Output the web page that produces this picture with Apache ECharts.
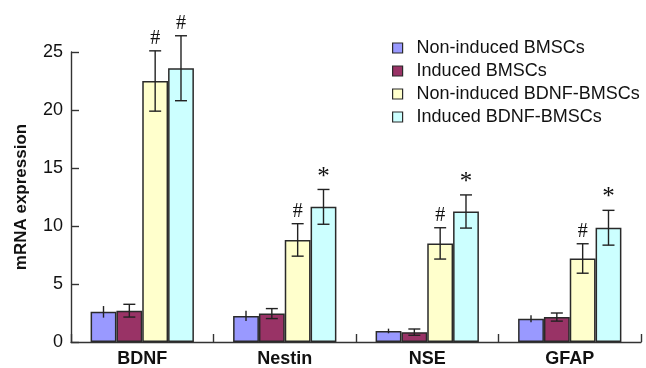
<!DOCTYPE html>
<html>
<head>
<meta charset="utf-8">
<script src="https://cdn.jsdelivr.net/npm/echarts@6/dist/echarts.min.js"></script>
<style>
html,body{margin:0;padding:0;background:#fff;}
#chart{width:646px;height:368px;}
</style>
</head>
<body>
<div id="chart"></div>
<script>
var categories = ['BDNF', 'Nestin', 'NSE', 'GFAP'];
var seriesNames = ['Non-induced BMSCs', 'Induced BMSCs', 'Non-induced BDNF-BMSCs', 'Induced BDNF-BMSCs'];
var nonInduced = [2.6, 2.25, 0.95, 2.0];
var induced = [2.7, 2.45, 0.85, 2.15];
var nonInducedBDNF = [22.5, 8.8, 8.5, 7.2];
var inducedBDNF = [23.6, 11.65, 11.25, 9.85];
var errNonInduced = [0.5, 0.45, 0.2, 0.3];
var errInduced = [0.55, 0.43, 0.27, 0.35];
var errNonInducedBDNF = [2.6, 1.4, 1.35, 1.27];
var errInducedBDNF = [2.8, 1.5, 1.43, 1.5];
var marksNonInduced = ['', '', '', ''];
var marksInduced = ['', '', '', ''];
var marksNonInducedBDNF = ['#', '#', '#', '#'];
var marksInducedBDNF = ['#', '*', '*', '*'];
var yTicks = [0, 5, 10, 15, 20, 25];

var values = [nonInduced, induced, nonInducedBDNF, inducedBDNF];
var errors = [errNonInduced, errInduced, errNonInducedBDNF, errInducedBDNF];
var marks = [marksNonInduced, marksInduced, marksNonInducedBDNF, marksInducedBDNF];
var colors = ['#9999ff', '#993366', '#ffffcc', '#ccffff'];
var CAT_GAP = 0.275;
var FONT = 'Liberation Sans, Arial, Helvetica, sans-serif';

var series = [];
values.forEach(function (vals, k) {
  series.push({
    name: seriesNames[k],
    type: 'bar',
    data: vals,
    barGap: '0%',
    barCategoryGap: (CAT_GAP * 100) + '%',
    itemStyle: { color: colors[k], borderColor: '#2a2a2a', borderWidth: 1.5 },
    emphasis: { disabled: true },
    z: 2
  });
});
values.forEach(function (vals, k) {
  series.push({
    type: 'custom',
    name: 'err' + k,
    z: 5,
    silent: true,
    encode: { x: 0, y: 1 },
    data: vals.map(function (v, i) { return [i, v, errors[k][i], marks[k][i]]; }),
    renderItem: function (params, api) {
      var ci = api.value(0), v = api.value(1), e = api.value(2);
      var mark = marks[k][ci];
      var c = api.coord([ci, v]);
      var catW = api.size([1, 0])[0];
      var barW = catW * (1 - CAT_GAP) / 4;
      var x = c[0] - 2 * barW + (k + 0.5) * barW;
      var yTop = api.coord([ci, v + e])[1];
      var yBot = api.coord([ci, v - e])[1];
      var st = { stroke: '#222', lineWidth: 1.4 };
      var children = [
        { type: 'line', shape: { x1: x, y1: yTop, x2: x, y2: yBot }, style: st }
      ];
      if (k > 0) {
        children.push({ type: 'line', shape: { x1: x - 6, y1: yTop, x2: x + 6, y2: yTop }, style: st });
        children.push({ type: 'line', shape: { x1: x - 6, y1: yBot, x2: x + 6, y2: yBot }, style: st });
      }
      if (mark) {
        var isStar = mark === '*';
        children.push({
          type: 'text',
          style: {
            text: mark, x: x, y: yTop - (isStar ? 0 : 2),
            align: 'center', verticalAlign: 'bottom',
            font: (isStar ? '25px' : '20px') + ' "Liberation Serif", "Times New Roman", serif',
            fill: '#111'
          }
        });
      }
      return { type: 'group', children: children };
    }
  });
});

var chart = echarts.init(document.getElementById('chart'));
chart.setOption({
  animation: false,
  backgroundColor: '#fff',
  textStyle: { fontFamily: FONT },
  grid: { left: 71, right: 5, top: 52, bottom: 24, containLabel: false },
  legend: {
    data: seriesNames,
    orient: 'vertical',
    left: 387,
    top: 34,
    icon: 'rect',
    itemWidth: 10,
    itemHeight: 10,
    itemGap: 5,
    selectedMode: false,
    itemStyle: { borderColor: '#2a2a2a', borderWidth: 1.2 },
    textStyle: { fontSize: 18, color: '#111', fontFamily: FONT, padding: [0, 0, 0, 9] }
  },
  xAxis: {
    type: 'category',
    data: categories,
    axisLine: { lineStyle: { color: '#333', width: 1.4 } },
    axisTick: { show: true, inside: true, length: 8, alignWithLabel: false, lineStyle: { color: '#333', width: 1.4 } },
    axisLabel: { fontSize: 18, fontWeight: 'bold', color: '#111', margin: 8, fontFamily: FONT },
    splitLine: { show: false }
  },
  yAxis: {
    type: 'value',
    min: yTicks[0],
    max: yTicks[yTicks.length - 1],
    interval: 5,
    name: 'mRNA expression',
    nameLocation: 'middle',
    nameGap: 41,
    nameTextStyle: { fontSize: 17, fontWeight: 'bold', color: '#111', fontFamily: FONT },
    axisLine: { show: true, lineStyle: { color: '#333', width: 1.4 } },
    axisTick: { show: true, inside: true, length: 8, lineStyle: { color: '#333', width: 1.4 } },
    axisLabel: { fontSize: 18, color: '#111', margin: 8, fontFamily: FONT },
    splitLine: { show: false }
  },
  series: series
});
</script>
</body>
</html>
